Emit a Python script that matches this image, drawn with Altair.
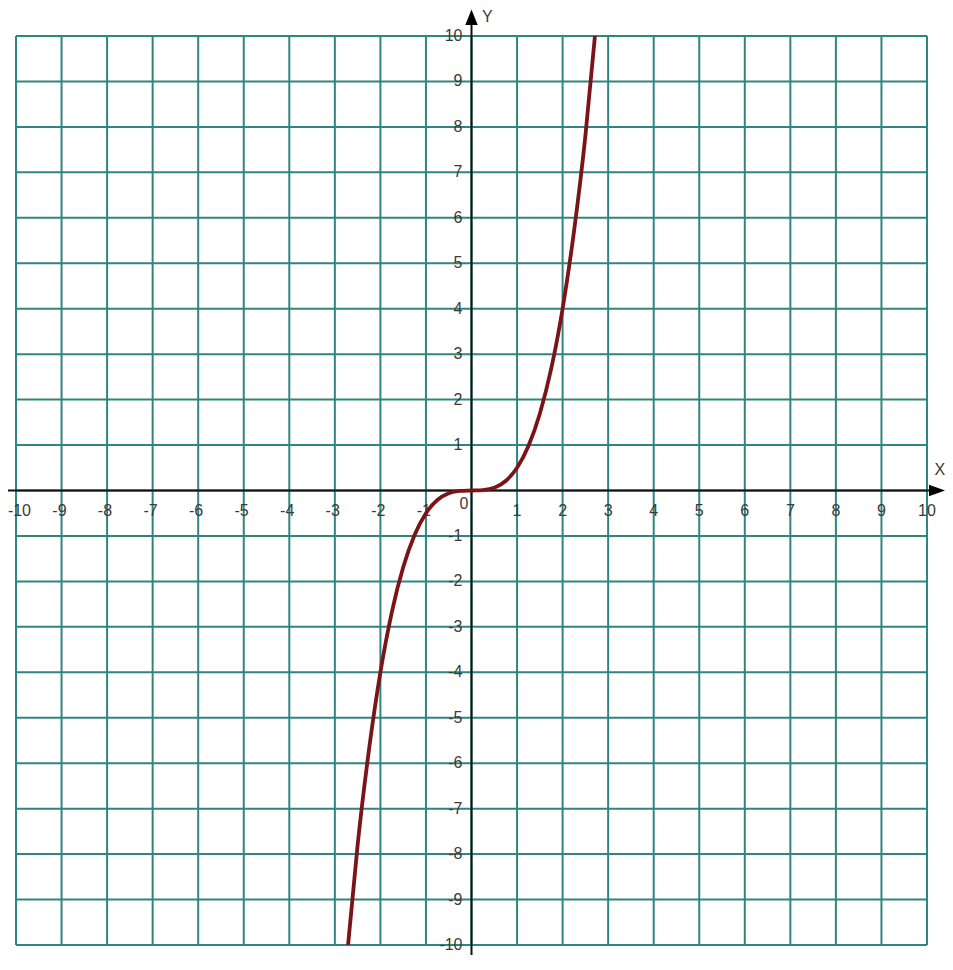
import altair as alt
import pandas as pd

# ---- data ----
curve_x = [-2.71, -2.5, -2.25, -2.0, -1.75, -1.5, -1.25, -1.0, -0.75, -0.5, -0.25, 0.0,
           0.25, 0.5, 0.75, 1.0, 1.25, 1.5, 1.75, 2.0, 2.25, 2.5, 2.71]
curve_y = [-10.0, -7.8, -5.7, -4.0, -2.68, -1.69, -0.98, -0.5, -0.21, -0.06, -0.01, 0.0,
           0.01, 0.06, 0.21, 0.5, 0.98, 1.69, 2.68, 4.0, 5.7, 7.8, 10.0]

grid_values = list(range(-10, 11))
x_pos_labels = ["1", "2", "3", "4", "5", "6", "7", "8", "9", "10"]
x_pos_values = [1, 2, 3, 4, 5, 6, 7, 8, 9, 10]
x_neg_labels = ["-9", "-8", "-7", "-6", "-5", "-4", "-3", "-2", "-1"]
x_neg_values = [-9, -8, -7, -6, -5, -4, -3, -2, -1]
x_edge_label = ["-10"]
x_edge_value = [-10]
y_labels = ["10", "9", "8", "7", "6", "5", "4", "3", "2", "1",
            "-1", "-2", "-3", "-4", "-5", "-6", "-7", "-8", "-9", "-10"]
y_values = [10, 9, 8, 7, 6, 5, 4, 3, 2, 1, -1, -2, -3, -4, -5, -6, -7, -8, -9, -10]
axis_names = ["X", "Y"]

# ---- styling ----
GRID = "#2f8580"
CURVE = "#7a1418"
TXT = "#3a3a3a"
FONT = "Liberation Sans"
W, H = 911, 909

xs = alt.Scale(domain=[-10, 10], nice=False, zero=False)
ys = alt.Scale(domain=[-10, 10], nice=False, zero=False)


def X(f):
    return alt.X(f, type="quantitative", scale=xs, axis=None)


def Y(f):
    return alt.Y(f, type="quantitative", scale=ys, axis=None)


vgrid = pd.DataFrame({"v": grid_values, "lo": -10, "hi": 10})
vlines = alt.Chart(vgrid).mark_rule(color=GRID, strokeWidth=2).encode(
    x=X("v"), y=Y("lo"), y2="hi")
hlines = alt.Chart(vgrid).mark_rule(color=GRID, strokeWidth=2).encode(
    y=Y("v"), x=X("lo"), x2="hi")

# axes lines
xaxis_df = pd.DataFrame({"a": [-10.2], "b": [10.2], "z": [0]})
xaxis = alt.Chart(xaxis_df).mark_rule(color="#111111", strokeWidth=2).encode(
    x=X("a"), x2="b", y=Y("z"))
yaxis_df = pd.DataFrame({"a": [-10.6], "b": [10.3], "z": [0]})
yaxis = alt.Chart(yaxis_df).mark_rule(color="#111111", strokeWidth=2).encode(
    y=Y("a"), y2="b", x=X("z"))

# arrows
xarrow = alt.Chart(pd.DataFrame({"x": [10.22], "y": [0]})).mark_point(
    shape="M-1,-0.72 L1,0 L-1,0.72 Z", filled=True, color="#000000", size=256, opacity=1
).encode(x=X("x"), y=Y("y"))
yarrow = alt.Chart(pd.DataFrame({"x": [0], "y": [10.41]})).mark_point(
    shape="M0,-1 L0.8,1 L-0.8,1 Z", filled=True, color="#000000", size=240, opacity=1
).encode(x=X("x"), y=Y("y"))

# curve
curve = alt.Chart(pd.DataFrame({"x": curve_x, "y": curve_y})).mark_line(
    color=CURVE, strokeWidth=3.8, interpolate="monotone").encode(
    x=X("x"), y=Y("y"), order="x:Q")

# tick labels
txt = dict(font=FONT, fontSize=16, color=TXT, baseline="middle")
xpos = alt.Chart(pd.DataFrame({"v": x_pos_values, "t": x_pos_labels, "z": 0})).mark_text(
    align="center", dy=20, **txt).encode(x=X("v"), y=Y("z"), text="t:N")
xneg = alt.Chart(pd.DataFrame({"v": x_neg_values, "t": x_neg_labels, "z": 0})).mark_text(
    align="right", dx=5, dy=20, **txt).encode(x=X("v"), y=Y("z"), text="t:N")
xedge = alt.Chart(pd.DataFrame({"v": x_edge_value, "t": x_edge_label, "z": 0})).mark_text(
    align="right", dx=15, dy=20, **txt).encode(x=X("v"), y=Y("z"), text="t:N")
ylab = alt.Chart(pd.DataFrame({"v": y_values, "t": y_labels, "z": 0})).mark_text(
    align="right", dx=-9, **txt).encode(y=Y("v"), x=X("z"), text="t:N")
zero = alt.Chart(pd.DataFrame({"v": [0], "t": ["0"]})).mark_text(
    align="right", dx=-3, dy=13, **txt).encode(x=X("v"), y=Y("v"), text="t:N")

names = alt.Chart(pd.DataFrame({"x": [10.28, 0.35], "y": [0.45, 10.41], "t": axis_names})).mark_text(
    align="center", **txt).encode(x=X("x"), y=Y("y"), text="t:N")

chart = alt.layer(
    vlines, hlines, xaxis, yaxis, xarrow, yarrow, xpos, xneg, xedge, ylab, zero, names, curve
).properties(
    width=W, height=H,
    autosize=alt.AutoSizeParams(type="none"),
    padding={"left": 8, "top": 28, "right": 18, "bottom": 10},
    background="#ffffff",
).configure_view(stroke=None)

chart.save("out.html", embed_options={"renderer": "svg", "actions": False})
